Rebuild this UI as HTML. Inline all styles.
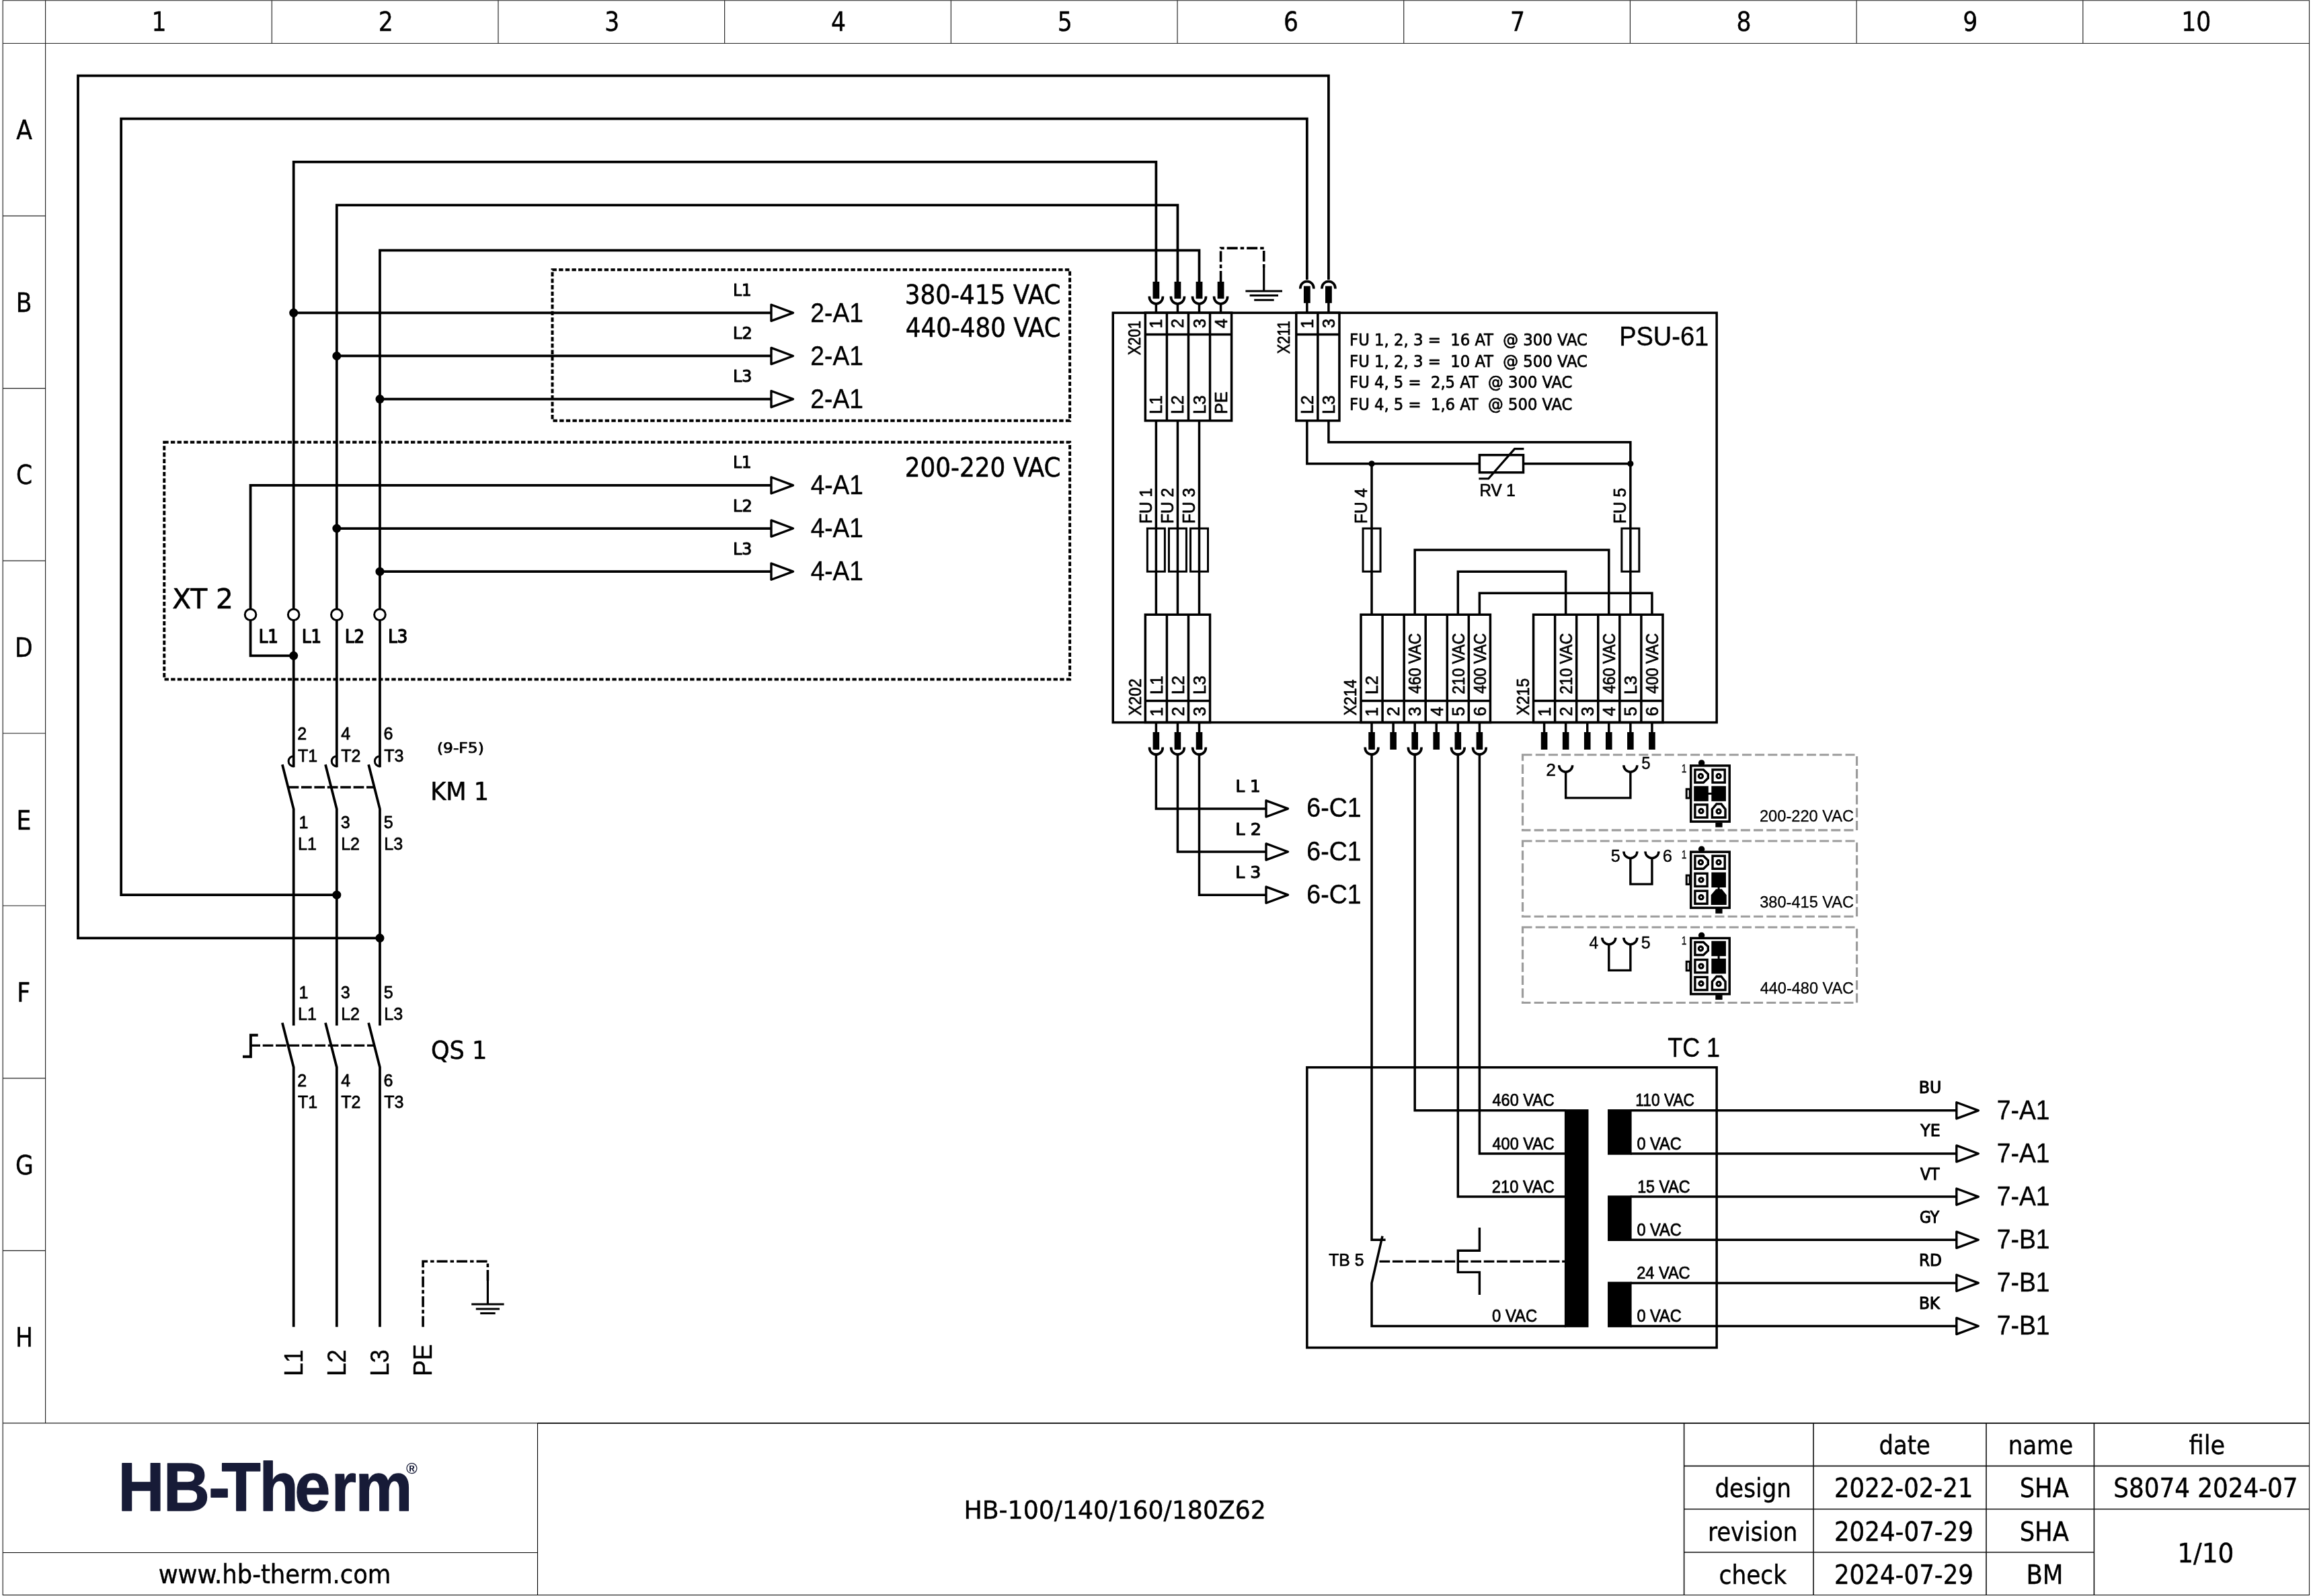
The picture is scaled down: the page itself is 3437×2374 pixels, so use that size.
<!DOCTYPE html>
<html lang="en"><head><meta charset="utf-8"><title>HB-100/140/160/180Z62 - wiring diagram 1/10</title>
<style>
html,body{margin:0;padding:0;background:#fff}
body{width:3437px;height:2374px;overflow:hidden}
svg{display:block;will-change:transform}
text{white-space:pre;fill:#000;stroke:none;stroke-linejoin:round}
.T{font-family:'DejaVu Sans Condensed','DejaVu Sans',sans-serif;font-stretch:condensed;stroke:#000;stroke-width:0.5px}
.A{font-family:'Liberation Sans',sans-serif;stroke:#000;stroke-width:0.5px}
.AB{font-family:'Liberation Sans',sans-serif;font-weight:bold}
</style></head><body>
<svg width="3437" height="2374" viewBox="0 0 3437 2374" fill="none" stroke="#000" stroke-linecap="butt" stroke-linejoin="miter">
<rect width="3437" height="2374" fill="#fff" stroke="none"/>
<g stroke="#222" stroke-width="1.15">
<path d="M4.2 0.7H3434.5V2372.5H4.2Z"/>
<path d="M4.2 64.5H3434.5M67.6 0.7V2116.9M4.2 2116.9H3434.5"/>
<path d="M404.29 0.7V64.5M740.98 0.7V64.5M1077.67 0.7V64.5M1414.36 0.7V64.5M1751.05 0.7V64.5M2087.74 0.7V64.5M2424.43 0.7V64.5M2761.12 0.7V64.5M3097.81 0.7V64.5M4.2 321.05H67.6M4.2 577.60H67.6M4.2 834.15H67.6M4.2 1090.70H67.6M4.2 1347.25H67.6M4.2 1603.80H67.6M4.2 1860.35H67.6"/>
</g>
<path d="M799.5 2116.9V2372.5M4.2 2309.5H799.5M4.2 2372.5H3434.5" stroke="#000" stroke-width="1.1"/>
<g stroke="#111" stroke-width="1.6">
<path d="M799.6 2116.9H3434.5"/>
<path d="M2504.6 2116.9V2372.5M2697 2116.9V2372.5M2954 2116.9V2372.5M3114.4 2116.9V2372.5M2504.6 2180.6H3434.5M2504.6 2244.7H3434.5M2504.6 2309H3114.4"/>
</g>
<path d="M564.95 1395.3H116.0V112.6H1975.92V416" stroke-width="3.75" />
<path d="M500.81 1331.16H180.13V176.74H1943.85V416" stroke-width="3.75" />
<path d="M436.68 1141.3V240.87H1719.38V419" stroke-width="3.75" />
<path d="M500.81 1141.3V305.0H1751.44V419" stroke-width="3.75" />
<path d="M564.95 1141.3V372.3H1783.51V419" stroke-width="3.75" />
<path d="M436.68 465.34L1147.00 465.34" stroke-width="3.75" />
<path d="M500.81 529.48L1147.00 529.48" stroke-width="3.75" />
<path d="M564.95 593.61L1147.00 593.61" stroke-width="3.75" />
<path d="M372.54 721.88L1147.00 721.88" stroke-width="3.75" />
<path d="M500.81 786.02L1147.00 786.02" stroke-width="3.75" />
<path d="M564.95 850.15L1147.00 850.15" stroke-width="3.75" />
<path d="M372.54 720.01V975.3H436.68" stroke-width="3.75" />
<path d="M1147.00 453.24L1179.50 465.34L1147.00 477.44Z" stroke-width="3.4" stroke-linejoin="round"/>
<path d="M1147.00 517.38L1179.50 529.48L1147.00 541.58Z" stroke-width="3.4" stroke-linejoin="round"/>
<path d="M1147.00 581.51L1179.50 593.61L1147.00 605.71Z" stroke-width="3.4" stroke-linejoin="round"/>
<path d="M1147.00 709.78L1179.50 721.88L1147.00 733.98Z" stroke-width="3.4" stroke-linejoin="round"/>
<path d="M1147.00 773.92L1179.50 786.02L1147.00 798.12Z" stroke-width="3.4" stroke-linejoin="round"/>
<path d="M1147.00 838.05L1179.50 850.15L1147.00 862.25Z" stroke-width="3.4" stroke-linejoin="round"/>
<circle cx="436.68" cy="465.34" r="6.5" fill="#000" stroke="none"/>
<circle cx="500.81" cy="529.48" r="6.5" fill="#000" stroke="none"/>
<circle cx="564.95" cy="593.61" r="6.5" fill="#000" stroke="none"/>
<circle cx="500.81" cy="786.02" r="6.5" fill="#000" stroke="none"/>
<circle cx="564.95" cy="850.15" r="6.5" fill="#000" stroke="none"/>
<circle cx="500.81" cy="1331.16" r="6.5" fill="#000" stroke="none"/>
<circle cx="564.95" cy="1395.30" r="6.5" fill="#000" stroke="none"/>
<circle cx="436.68" cy="975.30" r="6.5" fill="#000" stroke="none"/>
<circle cx="372.54" cy="914.29" r="8.3" fill="#fff" stroke-width="3"/>
<circle cx="436.68" cy="914.29" r="8.3" fill="#fff" stroke-width="3"/>
<circle cx="500.81" cy="914.29" r="8.3" fill="#fff" stroke-width="3"/>
<circle cx="564.95" cy="914.29" r="8.3" fill="#fff" stroke-width="3"/>
<path d="M821.49 401.21H1591.11V625.68H821.49Z" stroke-width="4" stroke-dasharray="6.4 3.25"/>
<path d="M244.27 657.75H1591.11V1010.49H244.27Z" stroke-width="4" stroke-dasharray="6.4 3.25"/>
<path d="M436.68 1124.7A7.6 7.6 0 0 0 436.68 1139.9" stroke-width="3" />
<path d="M419.88 1137.3L436.68 1203.4V1525.4" stroke-width="3.75" />
<path d="M419.88 1521.4L436.68 1587.6V1973.8" stroke-width="3.75" />
<path d="M500.81 1124.7A7.6 7.6 0 0 0 500.81 1139.9" stroke-width="3" />
<path d="M484.01 1137.3L500.81 1203.4V1525.4" stroke-width="3.75" />
<path d="M484.01 1521.4L500.81 1587.6V1973.8" stroke-width="3.75" />
<path d="M564.95 1124.7A7.6 7.6 0 0 0 564.95 1139.9" stroke-width="3" />
<path d="M548.15 1137.3L564.95 1203.4V1525.4" stroke-width="3.75" />
<path d="M548.15 1521.4L564.95 1587.6V1973.8" stroke-width="3.75" />
<path d="M428.60 1171.00L556.60 1171.00" stroke-width="3.4" stroke-dasharray="15.7 3.7"/>
<path d="M371.30 1555.10L556.60 1555.10" stroke-width="3.4" stroke-dasharray="15.7 3.7"/>
<path d="M383.7 1539.8H372.9V1571.7H361" stroke-width="3.9" />
<path d="M629.08 1973.8V1876.3H725.4V1905" stroke-width="3.6" stroke-dasharray="16 4 5.5 4"/>
<path d="M725.40 1905.00L725.40 1940.00" stroke-width="3.2" />
<path d="M701.2 1940H749.6M707.8 1947H743M714.2 1953.4H736.7" stroke-width="3" />
<g stroke-width="3.5">
<rect x="1655.24" y="465.34" width="897.89" height="609.28"/>
<path d="M1703.34 465.34V625.68M1735.41 465.34V625.68M1767.48 465.34V625.68M1799.54 465.34V625.68M1831.61 465.34V625.68M1703.34 497.41H1831.61M1703.34 625.68H1831.61M1703.34 465.34H1831.61" stroke-linecap="square"/>
<path d="M1927.81 465.34V625.68M1959.88 465.34V625.68M1991.95 465.34V625.68M1927.81 497.41H1991.95M1927.81 625.68H1991.95M1927.81 465.34H1991.95" stroke-linecap="square"/>
<path d="M1703.34 914.29V1074.62M1735.41 914.29V1074.62M1767.48 914.29V1074.62M1799.54 914.29V1074.62M1703.34 1042.56H1799.54M1703.34 1074.62H1799.54M1703.34 914.29H1799.54" stroke-linecap="square"/>
<path d="M2024.02 914.29V1074.62M2056.08 914.29V1074.62M2088.15 914.29V1074.62M2120.22 914.29V1074.62M2152.29 914.29V1074.62M2184.35 914.29V1074.62M2216.42 914.29V1074.62M2024.02 1042.56H2216.42M2024.02 1074.62H2216.42M2024.02 914.29H2216.42" stroke-linecap="square"/>
<path d="M2280.56 914.29V1074.62M2312.62 914.29V1074.62M2344.69 914.29V1074.62M2376.76 914.29V1074.62M2408.83 914.29V1074.62M2440.89 914.29V1074.62M2472.96 914.29V1074.62M2280.56 1042.56H2472.96M2280.56 1074.62H2472.96M2280.56 914.29H2472.96" stroke-linecap="square"/>
<rect x="1706.38" y="786.02" width="26" height="64.13" stroke-width="3"/>
<rect x="1738.44" y="786.02" width="26" height="64.13" stroke-width="3"/>
<rect x="1770.51" y="786.02" width="26" height="64.13" stroke-width="3"/>
<rect x="2027.05" y="786.02" width="26" height="64.13" stroke-width="3"/>
<rect x="2411.86" y="786.02" width="26" height="64.13" stroke-width="3"/>
<path d="M1719.38 625.68V914.29"/>
<path d="M1751.44 625.68V914.29"/>
<path d="M1783.51 625.68V914.29"/>
<path d="M1975.92 625.68V657.75H2424.86V914.29"/>
<path d="M1943.85 625.68V689.82H2200.39M2264.52 689.82H2424.86"/>
<path d="M2040.05 689.82V914.29"/>
<rect x="2200.39" y="676.82" width="65.13" height="26"/>
<path d="M2199.4 712H2213.7L2252.6 667.7H2266.4" stroke-width="3.2"/>
<path d="M2104.19 914.29V818.09H2392.79V914.29"/>
<path d="M2168.32 914.29V850.15H2328.66V914.29"/>
<path d="M2200.39 914.29V882.22H2456.93V914.29"/>
</g>
<circle cx="2040.05" cy="689.82" r="4.6" fill="#000" stroke="none"/>
<circle cx="2424.86" cy="689.82" r="4.6" fill="#000" stroke="none"/>
<rect x="1714.48" y="419" width="9.8" height="25.3" fill="#000" stroke="none"/>
<path d="M1709.38 440.8V441.8A10 10 0 0 0 1729.38 441.8V440.8" stroke-width="3.7" />
<path d="M1719.38 451.80L1719.38 465.34" stroke-width="3.5" />
<rect x="1746.54" y="419" width="9.8" height="25.3" fill="#000" stroke="none"/>
<path d="M1741.44 440.8V441.8A10 10 0 0 0 1761.44 441.8V440.8" stroke-width="3.7" />
<path d="M1751.44 451.80L1751.44 465.34" stroke-width="3.5" />
<rect x="1778.61" y="419" width="9.8" height="25.3" fill="#000" stroke="none"/>
<path d="M1773.51 440.8V441.8A10 10 0 0 0 1793.51 441.8V440.8" stroke-width="3.7" />
<path d="M1783.51 451.80L1783.51 465.34" stroke-width="3.5" />
<rect x="1810.68" y="419" width="9.8" height="25.3" fill="#000" stroke="none"/>
<path d="M1805.58 440.8V441.8A10 10 0 0 0 1825.58 441.8V440.8" stroke-width="3.7" />
<path d="M1815.58 451.80L1815.58 465.34" stroke-width="3.5" />
<path d="M1933.85 429.6V428.6A10 10 0 0 1 1953.85 428.6V429.6" stroke-width="3.7" />
<rect x="1938.95" y="425.5" width="9.8" height="25.3" fill="#000" stroke="none"/>
<path d="M1943.85 450.00L1943.85 465.34" stroke-width="3.5" />
<path d="M1965.92 429.6V428.6A10 10 0 0 1 1985.92 428.6V429.6" stroke-width="3.7" />
<rect x="1971.02" y="425.5" width="9.8" height="25.3" fill="#000" stroke="none"/>
<path d="M1975.92 450.00L1975.92 465.34" stroke-width="3.5" />
<path d="M1719.38 1074.62L1719.38 1090.00" stroke-width="3.5" />
<rect x="1714.58" y="1089" width="9.6" height="26" fill="#000" stroke="none"/>
<path d="M1709.58 1111.4V1112.4A9.8 9.8 0 0 0 1729.18 1112.4V1111.4" stroke-width="3.7" />
<path d="M1751.44 1074.62L1751.44 1090.00" stroke-width="3.5" />
<rect x="1746.64" y="1089" width="9.6" height="26" fill="#000" stroke="none"/>
<path d="M1741.64 1111.4V1112.4A9.8 9.8 0 0 0 1761.24 1112.4V1111.4" stroke-width="3.7" />
<path d="M1783.51 1074.62L1783.51 1090.00" stroke-width="3.5" />
<rect x="1778.71" y="1089" width="9.6" height="26" fill="#000" stroke="none"/>
<path d="M1773.71 1111.4V1112.4A9.8 9.8 0 0 0 1793.31 1112.4V1111.4" stroke-width="3.7" />
<path d="M2040.05 1074.62L2040.05 1090.00" stroke-width="3.5" />
<rect x="2035.25" y="1089" width="9.6" height="26" fill="#000" stroke="none"/>
<path d="M2030.25 1111.4V1112.4A9.8 9.8 0 0 0 2049.85 1112.4V1111.4" stroke-width="3.7" />
<path d="M2072.12 1074.62L2072.12 1090.00" stroke-width="3.5" />
<rect x="2067.32" y="1089" width="9.6" height="26" fill="#000" stroke="none"/>
<path d="M2104.19 1074.62L2104.19 1090.00" stroke-width="3.5" />
<rect x="2099.39" y="1089" width="9.6" height="26" fill="#000" stroke="none"/>
<path d="M2094.39 1111.4V1112.4A9.8 9.8 0 0 0 2113.99 1112.4V1111.4" stroke-width="3.7" />
<path d="M2136.25 1074.62L2136.25 1090.00" stroke-width="3.5" />
<rect x="2131.45" y="1089" width="9.6" height="26" fill="#000" stroke="none"/>
<path d="M2168.32 1074.62L2168.32 1090.00" stroke-width="3.5" />
<rect x="2163.52" y="1089" width="9.6" height="26" fill="#000" stroke="none"/>
<path d="M2158.52 1111.4V1112.4A9.8 9.8 0 0 0 2178.12 1112.4V1111.4" stroke-width="3.7" />
<path d="M2200.39 1074.62L2200.39 1090.00" stroke-width="3.5" />
<rect x="2195.59" y="1089" width="9.6" height="26" fill="#000" stroke="none"/>
<path d="M2190.59 1111.4V1112.4A9.8 9.8 0 0 0 2210.19 1112.4V1111.4" stroke-width="3.7" />
<path d="M2296.59 1074.62L2296.59 1090.00" stroke-width="3.5" />
<rect x="2291.79" y="1089" width="9.6" height="26" fill="#000" stroke="none"/>
<path d="M2328.66 1074.62L2328.66 1090.00" stroke-width="3.5" />
<rect x="2323.86" y="1089" width="9.6" height="26" fill="#000" stroke="none"/>
<path d="M2360.73 1074.62L2360.73 1090.00" stroke-width="3.5" />
<rect x="2355.93" y="1089" width="9.6" height="26" fill="#000" stroke="none"/>
<path d="M2392.79 1074.62L2392.79 1090.00" stroke-width="3.5" />
<rect x="2387.99" y="1089" width="9.6" height="26" fill="#000" stroke="none"/>
<path d="M2424.86 1074.62L2424.86 1090.00" stroke-width="3.5" />
<rect x="2420.06" y="1089" width="9.6" height="26" fill="#000" stroke="none"/>
<path d="M2456.93 1074.62L2456.93 1090.00" stroke-width="3.5" />
<rect x="2452.13" y="1089" width="9.6" height="26" fill="#000" stroke="none"/>
<path d="M1815.58 419V369.1H1879.71V398" stroke-width="3.6" stroke-dasharray="16 4 5.5 4"/>
<path d="M1879.71 398.00L1879.71 433.00" stroke-width="3.2" />
<path d="M1852.4 433H1907M1858.6 439.6H1901M1865.2 446.2H1894.7" stroke-width="3" />
<path d="M1719.38 1122.2V1202.89H1883" stroke-width="3.5" />
<path d="M1751.44 1122.2V1267.03H1883" stroke-width="3.5" />
<path d="M1783.51 1122.2V1331.16H1883" stroke-width="3.5" />
<path d="M1883.00 1190.79L1915.50 1202.89L1883.00 1214.99Z" stroke-width="3.4" stroke-linejoin="round"/>
<path d="M1883.00 1254.93L1915.50 1267.03L1883.00 1279.13Z" stroke-width="3.4" stroke-linejoin="round"/>
<path d="M1883.00 1319.06L1915.50 1331.16L1883.00 1343.26Z" stroke-width="3.4" stroke-linejoin="round"/>
<path d="M2040.05 1122.2V1844.25H2060.6" stroke-width="3.5" />
<path d="M2104.19 1122.2V1651.84H2328.66" stroke-width="3.5" />
<path d="M2168.32 1122.2V1780.11H2328.66" stroke-width="3.5" />
<path d="M2200.39 1122.2V1715.98H2328.66" stroke-width="3.5" />
<path d="M2264.52 1122.73H2761.57V1234.96H2264.52Z" stroke="#9c9c9c" stroke-width="3.2" stroke-dasharray="14 5.2"/>
<path d="M2264.52 1251.0H2761.57V1363.23H2264.52Z" stroke="#9c9c9c" stroke-width="3.2" stroke-dasharray="14 5.2"/>
<path d="M2264.52 1379.27H2761.57V1491.5H2264.52Z" stroke="#9c9c9c" stroke-width="3.2" stroke-dasharray="14 5.2"/>
<path d="M2318.66 1138.16A10 10 0 0 0 2338.66 1138.16" stroke-width="3.5" />
<path d="M2414.86 1138.16A10 10 0 0 0 2434.86 1138.16" stroke-width="3.5" />
<path d="M2328.66 1148.16V1186.86H2424.86V1148.16" stroke-width="3.4" />
<path d="M2414.86 1266.43A10 10 0 0 0 2434.86 1266.43" stroke-width="3.5" />
<path d="M2446.93 1266.43A10 10 0 0 0 2466.93 1266.43" stroke-width="3.5" />
<path d="M2424.86 1276.43V1315.13H2456.93V1276.43" stroke-width="3.4" />
<path d="M2382.79 1394.70A10 10 0 0 0 2402.79 1394.70" stroke-width="3.5" />
<path d="M2414.86 1394.70A10 10 0 0 0 2434.86 1394.70" stroke-width="3.5" />
<path d="M2392.79 1404.70V1443.4H2424.86V1404.70" stroke-width="3.4" />
<g transform="translate(0 0.00)"><rect x="2514.7" y="1138.9" width="57.5" height="83.2" stroke-width="3.5"/><circle cx="2530.6" cy="1134.9" r="4.7" fill="#000" stroke="none"/><rect x="2508.2" y="1173.8" width="5" height="13.3" stroke-width="3" fill="#fff"/><rect x="2551.3" y="1223.5" width="10.3" height="7" fill="#000" stroke="none"/><path d="M2520.90 1144.90H2533.40L2540.30 1151.40V1157.50L2533.40 1164.00H2520.90Z" stroke-width="3.4"/><circle cx="2529.40" cy="1154.45" r="3" stroke-width="3.3"/><rect x="2547.00" y="1144.90" width="18.20" height="19.10" stroke-width="3.4"/><circle cx="2556.10" cy="1154.45" r="3" stroke-width="3.3"/><rect x="2519.20" y="1169.30" width="21.60" height="22.50" fill="#000" stroke="none"/><rect x="2545.30" y="1169.30" width="21.60" height="22.50" fill="#000" stroke="none"/><rect x="2520.90" y="1196.90" width="18.20" height="19.10" stroke-width="3.4"/><circle cx="2530.00" cy="1206.45" r="3" stroke-width="3.3"/><path d="M2546.40 1216.00V1203.60L2552.90 1195.90H2559.90L2566.00 1203.60V1216.00Z" stroke-width="3.4" /><circle cx="2556.10" cy="1206.95" r="3" stroke-width="3.3"/><path d="M2530.00 1180.55L2556.10 1180.55" stroke-width="3"/></g>
<g transform="translate(0 128.27)"><rect x="2514.7" y="1138.9" width="57.5" height="83.2" stroke-width="3.5"/><circle cx="2530.6" cy="1134.9" r="4.7" fill="#000" stroke="none"/><rect x="2508.2" y="1173.8" width="5" height="13.3" stroke-width="3" fill="#fff"/><rect x="2551.3" y="1223.5" width="10.3" height="7" fill="#000" stroke="none"/><path d="M2520.90 1144.90H2533.40L2540.30 1151.40V1157.50L2533.40 1164.00H2520.90Z" stroke-width="3.4"/><circle cx="2529.40" cy="1154.45" r="3" stroke-width="3.3"/><rect x="2547.00" y="1144.90" width="18.20" height="19.10" stroke-width="3.4"/><circle cx="2556.10" cy="1154.45" r="3" stroke-width="3.3"/><rect x="2520.90" y="1171.00" width="18.20" height="19.10" stroke-width="3.4"/><circle cx="2530.00" cy="1180.55" r="3" stroke-width="3.3"/><rect x="2545.30" y="1169.30" width="21.60" height="22.50" fill="#000" stroke="none"/><rect x="2520.90" y="1196.90" width="18.20" height="19.10" stroke-width="3.4"/><circle cx="2530.00" cy="1206.45" r="3" stroke-width="3.3"/><path d="M2546.40 1216.00V1203.60L2552.90 1195.90H2559.90L2566.00 1203.60V1216.00Z" stroke-width="3.4" fill="#000"/><path d="M2556.10 1180.55L2556.10 1206.45" stroke-width="3"/></g>
<g transform="translate(0 256.54)"><rect x="2514.7" y="1138.9" width="57.5" height="83.2" stroke-width="3.5"/><circle cx="2530.6" cy="1134.9" r="4.7" fill="#000" stroke="none"/><rect x="2508.2" y="1173.8" width="5" height="13.3" stroke-width="3" fill="#fff"/><rect x="2551.3" y="1223.5" width="10.3" height="7" fill="#000" stroke="none"/><path d="M2520.90 1144.90H2533.40L2540.30 1151.40V1157.50L2533.40 1164.00H2520.90Z" stroke-width="3.4"/><circle cx="2529.40" cy="1154.45" r="3" stroke-width="3.3"/><rect x="2545.30" y="1143.20" width="21.60" height="22.50" fill="#000" stroke="none"/><rect x="2520.90" y="1171.00" width="18.20" height="19.10" stroke-width="3.4"/><circle cx="2530.00" cy="1180.55" r="3" stroke-width="3.3"/><rect x="2545.30" y="1169.30" width="21.60" height="22.50" fill="#000" stroke="none"/><rect x="2520.90" y="1196.90" width="18.20" height="19.10" stroke-width="3.4"/><circle cx="2530.00" cy="1206.45" r="3" stroke-width="3.3"/><path d="M2546.40 1216.00V1203.60L2552.90 1195.90H2559.90L2566.00 1203.60V1216.00Z" stroke-width="3.4" /><circle cx="2556.10" cy="1206.95" r="3" stroke-width="3.3"/><path d="M2556.10 1154.45L2556.10 1180.55" stroke-width="3"/></g>
<rect x="1943.85" y="1587.7" width="609.28" height="416.88" stroke-width="3.5"/>
<rect x="2326.91" y="1650.09" width="35.57" height="324.18" fill="#000" stroke="none"/>
<rect x="2391.04" y="1650.09" width="35.57" height="67.64" fill="#000" stroke="none"/>
<rect x="2391.04" y="1778.36" width="35.57" height="67.64" fill="#000" stroke="none"/>
<rect x="2391.04" y="1906.63" width="35.57" height="67.64" fill="#000" stroke="none"/>
<path d="M2424.86 1651.84L2909.80 1651.84" stroke-width="3.5" />
<path d="M2909.80 1639.74L2942.30 1651.84L2909.80 1663.94Z" stroke-width="3.4" stroke-linejoin="round"/>
<path d="M2424.86 1715.98L2909.80 1715.98" stroke-width="3.5" />
<path d="M2909.80 1703.88L2942.30 1715.98L2909.80 1728.08Z" stroke-width="3.4" stroke-linejoin="round"/>
<path d="M2424.86 1780.11L2909.80 1780.11" stroke-width="3.5" />
<path d="M2909.80 1768.01L2942.30 1780.11L2909.80 1792.21Z" stroke-width="3.4" stroke-linejoin="round"/>
<path d="M2424.86 1844.25L2909.80 1844.25" stroke-width="3.5" />
<path d="M2909.80 1832.15L2942.30 1844.25L2909.80 1856.35Z" stroke-width="3.4" stroke-linejoin="round"/>
<path d="M2424.86 1908.38L2909.80 1908.38" stroke-width="3.5" />
<path d="M2909.80 1896.28L2942.30 1908.38L2909.80 1920.48Z" stroke-width="3.4" stroke-linejoin="round"/>
<path d="M2424.86 1972.52L2909.80 1972.52" stroke-width="3.5" />
<path d="M2909.80 1960.42L2942.30 1972.52L2909.80 1984.62Z" stroke-width="3.4" stroke-linejoin="round"/>
<path d="M2056 1838.6L2040.05 1908.38V1972.52H2328.66" stroke-width="3.5" />
<path d="M2051.50 1876.31L2327.66 1876.31" stroke-width="3.3" stroke-dasharray="15.7 3.7"/>
<path d="M2200.39 1826V1860.28H2168.32V1892.35H2200.39V1926" stroke-width="3.4" />
<text class="AB" transform="translate(0 2247.3) scale(0.93 1)" x="188.6 261.2 333.7 354.4 414.6 471.3 529.8 568.4" font-size="102.6" style="fill:#171b37;stroke:#171b37;stroke-width:1.4px">HB-Therm</text>
<g>
<text class="T" transform="translate(225.40 46.20)" font-size="38.45" style="stroke-width:0.4px;">1</text>
<text class="T" transform="translate(562.86 46.20)" font-size="38.45" style="stroke-width:0.4px;">2</text>
<text class="T" transform="translate(899.17 46.20)" font-size="38.45" style="stroke-width:0.4px;">3</text>
<text class="T" transform="translate(1236.05 46.20)" font-size="38.45" style="stroke-width:0.4px;">4</text>
<text class="T" transform="translate(1572.74 46.20)" font-size="38.45" style="stroke-width:0.4px;">5</text>
<text class="T" transform="translate(1909.04 46.20)" font-size="38.45" style="stroke-width:0.4px;">6</text>
<text class="T" transform="translate(2245.93 46.20)" font-size="38.45" style="stroke-width:0.4px;">7</text>
<text class="T" transform="translate(2582.62 46.20)" font-size="38.45" style="stroke-width:0.4px;">8</text>
<text class="T" transform="translate(2919.31 46.20)" font-size="38.45" style="stroke-width:0.4px;">9</text>
<text class="T" transform="translate(3244.27 46.20)" font-size="38.45" style="stroke-width:0.4px;">10</text>
<text class="T" transform="translate(24.27 207.38)" font-size="38.45" style="stroke-width:0.4px;">A</text>
<text class="T" transform="translate(23.70 463.93)" font-size="38.45" style="stroke-width:0.4px;">B</text>
<text class="T" transform="translate(23.89 720.48)" font-size="38.45" style="stroke-width:0.4px;">C</text>
<text class="T" transform="translate(21.97 977.03)" font-size="38.45" style="stroke-width:0.4px;">D</text>
<text class="T" transform="translate(24.46 1233.58)" font-size="38.45" style="stroke-width:0.4px;">E</text>
<text class="T" transform="translate(25.23 1490.12)" font-size="38.45" style="stroke-width:0.4px;">F</text>
<text class="T" transform="translate(23.12 1746.67)" font-size="38.45" style="stroke-width:0.4px;">G</text>
<text class="T" transform="translate(22.93 2003.22)" font-size="38.45" style="stroke-width:0.4px;">H</text>
<text class="T" transform="translate(1090.20 439.94) scale(1.0162 1)" font-size="25.24" style="stroke-width:1.0px;">L1</text>
<text class="A" transform="translate(1205.32 478.54) scale(0.9213 1)" font-size="40.41" style="stroke-width:0.4px;">2-A1</text>
<text class="T" transform="translate(1090.11 504.08) scale(1.0655 1)" font-size="25.24" style="stroke-width:1.0px;">L2</text>
<text class="A" transform="translate(1205.32 542.68) scale(0.9213 1)" font-size="40.41" style="stroke-width:0.4px;">2-A1</text>
<text class="T" transform="translate(1090.15 568.21) scale(1.0430 1)" font-size="25.24" style="stroke-width:1.0px;">L3</text>
<text class="A" transform="translate(1205.32 606.81) scale(0.9213 1)" font-size="40.41" style="stroke-width:0.4px;">2-A1</text>
<text class="T" transform="translate(1090.20 696.48) scale(1.0162 1)" font-size="25.24" style="stroke-width:1.0px;">L1</text>
<text class="A" transform="translate(1205.64 735.08) scale(0.9175 1)" font-size="40.41" style="stroke-width:0.4px;">4-A1</text>
<text class="T" transform="translate(1090.11 760.62) scale(1.0655 1)" font-size="25.24" style="stroke-width:1.0px;">L2</text>
<text class="A" transform="translate(1205.64 799.22) scale(0.9175 1)" font-size="40.41" style="stroke-width:0.4px;">4-A1</text>
<text class="T" transform="translate(1090.15 824.75) scale(1.0430 1)" font-size="25.24" style="stroke-width:1.0px;">L3</text>
<text class="A" transform="translate(1205.64 863.35) scale(0.9175 1)" font-size="40.41" style="stroke-width:0.4px;">4-A1</text>
<text class="T" transform="translate(1345.67 452.30) scale(1.0377 1)" font-size="38.41">380-415 VAC</text>
<text class="T" transform="translate(1346.87 500.80) scale(1.0322 1)" font-size="38.41">440-480 VAC</text>
<text class="T" transform="translate(1345.67 709.30) scale(1.0377 1)" font-size="38.41">200-220 VAC</text>
<text class="T" transform="translate(256.17 905.00) scale(1.1040 1)" font-size="41.02" style="stroke-width:0.6px;">XT 2</text>
<text class="T" transform="translate(384.76 955.80)" font-size="27.02" style="stroke-width:1.3px;">L1</text>
<text class="T" transform="translate(448.90 955.80)" font-size="27.02" style="stroke-width:1.3px;">L1</text>
<text class="T" transform="translate(513.03 955.80)" font-size="27.02" style="stroke-width:1.3px;">L2</text>
<text class="T" transform="translate(577.17 955.80)" font-size="27.02" style="stroke-width:1.3px;">L3</text>
<text class="A" transform="translate(442.29 1100.20) scale(0.9600 1)" font-size="26.09" style="stroke-width:0.75px;">2</text>
<text class="A" transform="translate(443.04 1132.60) scale(0.9600 1)" font-size="26.09" style="stroke-width:0.75px;">T1</text>
<text class="A" transform="translate(444.54 1231.50) scale(0.9600 1)" font-size="26.09" style="stroke-width:0.75px;">1</text>
<text class="A" transform="translate(443.04 1263.60) scale(0.9600 1)" font-size="26.09" style="stroke-width:0.75px;">L1</text>
<text class="A" transform="translate(444.54 1484.70) scale(0.9600 1)" font-size="26.09" style="stroke-width:0.75px;">1</text>
<text class="A" transform="translate(443.04 1517.00) scale(0.9600 1)" font-size="26.09" style="stroke-width:0.75px;">L1</text>
<text class="A" transform="translate(442.29 1616.30) scale(0.9600 1)" font-size="26.09" style="stroke-width:0.75px;">2</text>
<text class="A" transform="translate(443.04 1648.30) scale(0.9600 1)" font-size="26.09" style="stroke-width:0.75px;">T1</text>
<text class="A" transform="translate(507.17 1100.20) scale(0.9600 1)" font-size="26.09" style="stroke-width:0.75px;">4</text>
<text class="A" transform="translate(507.17 1132.60) scale(0.9600 1)" font-size="26.09" style="stroke-width:0.75px;">T2</text>
<text class="A" transform="translate(506.67 1231.50) scale(0.9600 1)" font-size="26.09" style="stroke-width:0.75px;">3</text>
<text class="A" transform="translate(507.17 1263.60) scale(0.9600 1)" font-size="26.09" style="stroke-width:0.75px;">L2</text>
<text class="A" transform="translate(506.67 1484.70) scale(0.9600 1)" font-size="26.09" style="stroke-width:0.75px;">3</text>
<text class="A" transform="translate(507.17 1517.00) scale(0.9600 1)" font-size="26.09" style="stroke-width:0.75px;">L2</text>
<text class="A" transform="translate(507.17 1616.30) scale(0.9600 1)" font-size="26.09" style="stroke-width:0.75px;">4</text>
<text class="A" transform="translate(507.17 1648.30) scale(0.9600 1)" font-size="26.09" style="stroke-width:0.75px;">T2</text>
<text class="A" transform="translate(570.56 1100.20) scale(0.9600 1)" font-size="26.09" style="stroke-width:0.75px;">6</text>
<text class="A" transform="translate(571.31 1132.60) scale(0.9600 1)" font-size="26.09" style="stroke-width:0.75px;">T3</text>
<text class="A" transform="translate(570.81 1231.50) scale(0.9600 1)" font-size="26.09" style="stroke-width:0.75px;">5</text>
<text class="A" transform="translate(571.31 1263.60) scale(0.9600 1)" font-size="26.09" style="stroke-width:0.75px;">L3</text>
<text class="A" transform="translate(570.81 1484.70) scale(0.9600 1)" font-size="26.09" style="stroke-width:0.75px;">5</text>
<text class="A" transform="translate(571.31 1517.00) scale(0.9600 1)" font-size="26.09" style="stroke-width:0.75px;">L3</text>
<text class="A" transform="translate(570.56 1616.30) scale(0.9600 1)" font-size="26.09" style="stroke-width:0.75px;">6</text>
<text class="A" transform="translate(571.31 1648.30) scale(0.9600 1)" font-size="26.09" style="stroke-width:0.75px;">T3</text>
<text class="T" transform="translate(649.96 1120.00) scale(1.1796 1)" font-size="22.02" style="stroke-width:0.75px;">(9-F5)</text>
<text class="T" transform="translate(640.34 1189.60) scale(1.0356 1)" font-size="37.72">KM 1</text>
<text class="T" transform="translate(640.91 1574.80) scale(1.0350 1)" font-size="37.72">QS 1</text>
<text class="A" transform="translate(449.68 2046.97) rotate(-90) scale(0.9300 1)" font-size="38.37" style="stroke-width:0.4px;">L1</text>
<text class="A" transform="translate(513.81 2046.97) rotate(-90) scale(0.9300 1)" font-size="38.37" style="stroke-width:0.4px;">L2</text>
<text class="A" transform="translate(577.95 2046.97) rotate(-90) scale(0.9300 1)" font-size="38.37" style="stroke-width:0.4px;">L3</text>
<text class="A" transform="translate(642.08 2046.97) rotate(-90) scale(0.9300 1)" font-size="38.37" style="stroke-width:0.4px;">PE</text>
<text class="A" transform="translate(1728.38 488.47) rotate(-90) scale(0.9600 1)" font-size="26.09" style="stroke-width:0.75px;">1</text>
<text class="A" transform="translate(1728.38 616.04) rotate(-90) scale(0.9600 1)" font-size="26.09" style="stroke-width:0.75px;">L1</text>
<text class="A" transform="translate(1760.44 488.09) rotate(-90) scale(0.9600 1)" font-size="26.09" style="stroke-width:0.75px;">2</text>
<text class="A" transform="translate(1760.44 616.04) rotate(-90) scale(0.9600 1)" font-size="26.09" style="stroke-width:0.75px;">L2</text>
<text class="A" transform="translate(1792.51 487.97) rotate(-90) scale(0.9600 1)" font-size="26.09" style="stroke-width:0.75px;">3</text>
<text class="A" transform="translate(1792.51 616.04) rotate(-90) scale(0.9600 1)" font-size="26.09" style="stroke-width:0.75px;">L3</text>
<text class="A" transform="translate(1824.58 487.97) rotate(-90) scale(0.9600 1)" font-size="26.09" style="stroke-width:0.75px;">4</text>
<text class="A" transform="translate(1824.58 616.04) rotate(-90) scale(0.9600 1)" font-size="26.09" style="stroke-width:0.75px;">PE</text>
<text class="A" transform="translate(1696.40 528.34) rotate(-90) scale(0.8407 1)" font-size="26.09" style="stroke-width:0.75px;">X201</text>
<text class="A" transform="translate(1918.20 526.34) rotate(-90) scale(0.8330 1)" font-size="26.09" style="stroke-width:0.75px;">X211</text>
<text class="A" transform="translate(1952.85 488.47) rotate(-90) scale(0.9600 1)" font-size="26.09" style="stroke-width:0.75px;">1</text>
<text class="A" transform="translate(1952.85 616.04) rotate(-90) scale(0.9600 1)" font-size="26.09" style="stroke-width:0.75px;">L2</text>
<text class="A" transform="translate(1984.92 487.97) rotate(-90) scale(0.9600 1)" font-size="26.09" style="stroke-width:0.75px;">3</text>
<text class="A" transform="translate(1984.92 616.04) rotate(-90) scale(0.9600 1)" font-size="26.09" style="stroke-width:0.75px;">L3</text>
<text class="T" transform="translate(2007.08 513.70) scale(1.0314 1)" font-size="24.55" style="stroke-width:0.7px;">FU 1, 2, 3 =  16 AT  @ 300 VAC</text>
<text class="T" transform="translate(2007.08 545.50) scale(1.0314 1)" font-size="24.55" style="stroke-width:0.7px;">FU 1, 2, 3 =  10 AT  @ 500 VAC</text>
<text class="T" transform="translate(2007.09 577.40) scale(1.0288 1)" font-size="24.55" style="stroke-width:0.7px;">FU 4, 5 =  2,5 AT  @ 300 VAC</text>
<text class="T" transform="translate(2007.09 609.50) scale(1.0288 1)" font-size="24.55" style="stroke-width:0.7px;">FU 4, 5 =  1,6 AT  @ 500 VAC</text>
<text class="A" transform="translate(2408.15 513.50) scale(0.9512 1)" font-size="39.97" style="stroke-width:0.4px;">PSU-61</text>
<text class="A" transform="translate(2200.41 738.00) scale(0.9270 1)" font-size="26.09" style="stroke-width:0.75px;">RV 1</text>
<text class="A" transform="translate(1712.68 779.01) rotate(-90) scale(0.9431 1)" font-size="26.09" style="stroke-width:0.75px;">FU 1</text>
<text class="A" transform="translate(1744.74 779.01) rotate(-90) scale(0.9431 1)" font-size="26.09" style="stroke-width:0.75px;">FU 2</text>
<text class="A" transform="translate(1776.81 779.01) rotate(-90) scale(0.9431 1)" font-size="26.09" style="stroke-width:0.75px;">FU 3</text>
<text class="A" transform="translate(2033.35 779.00) rotate(-90) scale(0.9340 1)" font-size="26.09" style="stroke-width:0.75px;">FU 4</text>
<text class="A" transform="translate(2418.16 779.01) rotate(-90) scale(0.9431 1)" font-size="26.09" style="stroke-width:0.75px;">FU 5</text>
<text class="A" transform="translate(1728.68 1065.68) rotate(-90) scale(0.9600 1)" font-size="26.09" style="stroke-width:0.75px;">1</text>
<text class="A" transform="translate(1728.68 1033.04) rotate(-90) scale(0.9600 1)" font-size="26.09" style="stroke-width:0.75px;">L1</text>
<text class="A" transform="translate(1760.74 1065.30) rotate(-90) scale(0.9600 1)" font-size="26.09" style="stroke-width:0.75px;">2</text>
<text class="A" transform="translate(1760.74 1033.04) rotate(-90) scale(0.9600 1)" font-size="26.09" style="stroke-width:0.75px;">L2</text>
<text class="A" transform="translate(1792.81 1065.18) rotate(-90) scale(0.9600 1)" font-size="26.09" style="stroke-width:0.75px;">3</text>
<text class="A" transform="translate(1792.81 1033.04) rotate(-90) scale(0.9600 1)" font-size="26.09" style="stroke-width:0.75px;">L3</text>
<text class="A" transform="translate(1696.50 1064.57) rotate(-90) scale(0.9043 1)" font-size="26.09" style="stroke-width:0.75px;">X202</text>
<text class="A" transform="translate(2017.30 1064.36) rotate(-90) scale(0.8799 1)" font-size="26.09" style="stroke-width:0.75px;">X214</text>
<text class="A" transform="translate(2274.10 1063.97) rotate(-90) scale(0.9043 1)" font-size="26.09" style="stroke-width:0.75px;">X215</text>
<text class="A" transform="translate(2049.35 1065.68) rotate(-90) scale(0.9600 1)" font-size="26.09" style="stroke-width:0.75px;">1</text>
<text class="A" transform="translate(2049.35 1033.04) rotate(-90) scale(0.9600 1)" font-size="26.09" style="stroke-width:0.75px;">L2</text>
<text class="A" transform="translate(2081.42 1065.30) rotate(-90) scale(0.9600 1)" font-size="26.09" style="stroke-width:0.75px;">2</text>
<text class="A" transform="translate(2113.49 1065.18) rotate(-90) scale(0.9600 1)" font-size="26.09" style="stroke-width:0.75px;">3</text>
<text class="A" transform="translate(2113.49 1031.83) rotate(-90) scale(0.8782 1)" font-size="26.09" style="stroke-width:0.75px;">460 VAC</text>
<text class="A" transform="translate(2145.55 1065.18) rotate(-90) scale(0.9600 1)" font-size="26.09" style="stroke-width:0.75px;">4</text>
<text class="A" transform="translate(2177.62 1065.18) rotate(-90) scale(0.9600 1)" font-size="26.09" style="stroke-width:0.75px;">5</text>
<text class="A" transform="translate(2177.62 1032.52) rotate(-90) scale(0.8850 1)" font-size="26.09" style="stroke-width:0.75px;">210 VAC</text>
<text class="A" transform="translate(2209.69 1065.30) rotate(-90) scale(0.9600 1)" font-size="26.09" style="stroke-width:0.75px;">6</text>
<text class="A" transform="translate(2209.69 1031.83) rotate(-90) scale(0.8782 1)" font-size="26.09" style="stroke-width:0.75px;">400 VAC</text>
<text class="A" transform="translate(2305.89 1065.68) rotate(-90) scale(0.9600 1)" font-size="26.09" style="stroke-width:0.75px;">1</text>
<text class="A" transform="translate(2337.96 1065.30) rotate(-90) scale(0.9600 1)" font-size="26.09" style="stroke-width:0.75px;">2</text>
<text class="A" transform="translate(2337.96 1032.52) rotate(-90) scale(0.8850 1)" font-size="26.09" style="stroke-width:0.75px;">210 VAC</text>
<text class="A" transform="translate(2370.03 1065.18) rotate(-90) scale(0.9600 1)" font-size="26.09" style="stroke-width:0.75px;">3</text>
<text class="A" transform="translate(2402.09 1065.18) rotate(-90) scale(0.9600 1)" font-size="26.09" style="stroke-width:0.75px;">4</text>
<text class="A" transform="translate(2402.09 1031.83) rotate(-90) scale(0.8782 1)" font-size="26.09" style="stroke-width:0.75px;">460 VAC</text>
<text class="A" transform="translate(2434.16 1065.18) rotate(-90) scale(0.9600 1)" font-size="26.09" style="stroke-width:0.75px;">5</text>
<text class="A" transform="translate(2434.16 1033.04) rotate(-90) scale(0.9600 1)" font-size="26.09" style="stroke-width:0.75px;">L3</text>
<text class="A" transform="translate(2466.23 1065.30) rotate(-90) scale(0.9600 1)" font-size="26.09" style="stroke-width:0.75px;">6</text>
<text class="A" transform="translate(2466.23 1031.83) rotate(-90) scale(0.8782 1)" font-size="26.09" style="stroke-width:0.75px;">400 VAC</text>
<text class="T" transform="translate(1837.38 1177.59) scale(1.0858 1)" font-size="25.24" style="stroke-width:1.0px;">L 1</text>
<text class="A" transform="translate(1943.31 1215.49) scale(0.9382 1)" font-size="39.97" style="stroke-width:0.4px;">6-C1</text>
<text class="T" transform="translate(1837.30 1241.73) scale(1.1272 1)" font-size="25.24" style="stroke-width:1.0px;">L 2</text>
<text class="A" transform="translate(1943.31 1279.63) scale(0.9382 1)" font-size="39.97" style="stroke-width:0.4px;">6-C1</text>
<text class="T" transform="translate(1837.34 1305.86) scale(1.1091 1)" font-size="25.24" style="stroke-width:1.0px;">L 3</text>
<text class="A" transform="translate(1943.31 1343.76) scale(0.9382 1)" font-size="39.97" style="stroke-width:0.4px;">6-C1</text>
<text class="A" transform="translate(2299.18 1154.40) scale(1.0411 1)" font-size="25.44" style="stroke-width:0.4px;">2</text>
<text class="A" transform="translate(2441.33 1144.40) scale(0.9468 1)" font-size="25.44" style="stroke-width:0.4px;">5</text>
<text class="A" transform="translate(2395.69 1282.20) scale(0.9873 1)" font-size="25.44" style="stroke-width:0.4px;">5</text>
<text class="A" transform="translate(2472.63 1282.20)" font-size="25.44" style="stroke-width:0.4px;">6</text>
<text class="A" transform="translate(2363.50 1411.00) scale(0.9645 1)" font-size="25.44" style="stroke-width:0.4px;">4</text>
<text class="A" transform="translate(2440.79 1411.00) scale(0.9873 1)" font-size="25.44" style="stroke-width:0.4px;">5</text>
<text class="A" transform="translate(2616.96 1221.50) scale(0.9629 1)" font-size="24.56" style="stroke-width:0.3px;">200-220 VAC</text>
<text class="A" transform="translate(2617.20 1349.80) scale(0.9613 1)" font-size="24.56" style="stroke-width:0.3px;">380-415 VAC</text>
<text class="A" transform="translate(2617.67 1478.00) scale(0.9580 1)" font-size="24.56" style="stroke-width:0.3px;">440-480 VAC</text>
<text class="A" transform="translate(2500.83 1148.60) scale(0.8200 1)" font-size="16.72" style="stroke-width:0.3px;">1</text>
<text class="A" transform="translate(2500.83 1276.87) scale(0.8200 1)" font-size="16.72" style="stroke-width:0.3px;">1</text>
<text class="A" transform="translate(2500.83 1405.14) scale(0.8200 1)" font-size="16.72" style="stroke-width:0.3px;">1</text>
<text class="A" transform="translate(2480.16 1571.50) scale(0.9000 1)" font-size="39.97" style="stroke-width:0.4px;">TC 1</text>
<text class="A" transform="translate(1976.26 1882.80) scale(0.9477 1)" font-size="26.09" style="stroke-width:0.75px;">TB 5</text>
<text class="A" transform="translate(2219.57 1645.44) scale(0.8999 1)" font-size="26.09" style="stroke-width:0.75px;">460 VAC</text>
<text class="A" transform="translate(2219.57 1709.58) scale(0.8999 1)" font-size="26.09" style="stroke-width:0.75px;">400 VAC</text>
<text class="A" transform="translate(2218.86 1773.71) scale(0.9069 1)" font-size="26.09" style="stroke-width:0.75px;">210 VAC</text>
<text class="A" transform="translate(2219.09 1966.12) scale(0.9128 1)" font-size="26.09" style="stroke-width:0.75px;">0 VAC</text>
<text class="A" transform="translate(2432.31 1645.44) scale(0.8729 1)" font-size="26.09" style="stroke-width:0.75px;">110 VAC</text>
<text class="A" transform="translate(2435.17 1773.71) scale(0.8920 1)" font-size="26.09" style="stroke-width:0.75px;">15 VAC</text>
<text class="A" transform="translate(2434.16 1901.98) scale(0.9036 1)" font-size="26.09" style="stroke-width:0.75px;">24 VAC</text>
<text class="A" transform="translate(2434.40 1709.58) scale(0.9031 1)" font-size="26.09" style="stroke-width:0.75px;">0 VAC</text>
<text class="A" transform="translate(2434.40 1837.85) scale(0.9031 1)" font-size="26.09" style="stroke-width:0.75px;">0 VAC</text>
<text class="A" transform="translate(2434.40 1966.12) scale(0.9031 1)" font-size="26.09" style="stroke-width:0.75px;">0 VAC</text>
<text class="T" transform="translate(2853.86 1626.24) scale(1.0551 1)" font-size="24.97" style="stroke-width:1.0px;">BU</text>
<text class="A" transform="translate(2969.82 1664.64) scale(0.9326 1)" font-size="39.97" style="stroke-width:0.4px;">7-A1</text>
<text class="T" transform="translate(2856.23 1690.38) scale(1.0521 1)" font-size="24.97" style="stroke-width:1.0px;">YE</text>
<text class="A" transform="translate(2969.82 1728.78) scale(0.9326 1)" font-size="39.97" style="stroke-width:0.4px;">7-A1</text>
<text class="T" transform="translate(2855.95 1754.51) scale(0.9845 1)" font-size="24.97" style="stroke-width:1.0px;">VT</text>
<text class="A" transform="translate(2969.82 1792.91) scale(0.9326 1)" font-size="39.97" style="stroke-width:0.4px;">7-A1</text>
<text class="T" transform="translate(2854.97 1818.65) scale(0.9726 1)" font-size="24.97" style="stroke-width:1.0px;">GY</text>
<text class="A" transform="translate(2969.82 1857.05) scale(0.9326 1)" font-size="39.97" style="stroke-width:0.4px;">7-B1</text>
<text class="T" transform="translate(2853.90 1882.78) scale(1.0326 1)" font-size="24.97" style="stroke-width:1.0px;">RD</text>
<text class="A" transform="translate(2969.82 1921.18) scale(0.9326 1)" font-size="39.97" style="stroke-width:0.4px;">7-B1</text>
<text class="T" transform="translate(2853.89 1946.92) scale(1.0371 1)" font-size="24.97" style="stroke-width:1.0px;">BK</text>
<text class="A" transform="translate(2969.82 1985.32) scale(0.9326 1)" font-size="39.97" style="stroke-width:0.4px;">7-B1</text>
<text class="AB" transform="translate(603.93 2192.30)" font-size="22.9" style="fill:#171b37;">®</text>
<text class="T" transform="translate(235.63 2354.70) scale(1.0257 1)" font-size="38.41" style="stroke-width:0.4px;">www.hb-therm.com</text>
<text class="T" transform="translate(1433.38 2259.20) scale(1.0571 1)" font-size="38.13" style="stroke-width:0.4px;">HB-100/140/160/180Z62</text>
<text class="T" transform="translate(2794.51 2163.00) scale(0.9784 1)" font-size="38.45" style="stroke-width:0.4px;">date</text>
<text class="T" transform="translate(2986.67 2163.00) scale(0.9845 1)" font-size="38.45" style="stroke-width:0.4px;">name</text>
<text class="T" transform="translate(3255.52 2163.00) scale(1.0162 1)" font-size="38.45" style="stroke-width:0.4px;">file</text>
<text class="T" transform="translate(2550.40 2227.40) scale(0.9885 1)" font-size="38.45" style="stroke-width:0.4px;">design</text>
<text class="T" transform="translate(2727.94 2227.40) scale(1.0274 1)" font-size="38.45" style="stroke-width:0.4px;">2022-02-21</text>
<text class="T" transform="translate(3003.65 2227.40) scale(1.0227 1)" font-size="38.45" style="stroke-width:0.4px;">SHA</text>
<text class="T" transform="translate(3143.22 2227.40) scale(1.0337 1)" font-size="38.45" style="stroke-width:0.4px;">S8074 2024-07</text>
<text class="T" transform="translate(2539.97 2291.50) scale(0.9848 1)" font-size="38.45" style="stroke-width:0.4px;">revision</text>
<text class="T" transform="translate(2727.93 2291.50) scale(1.0305 1)" font-size="38.45" style="stroke-width:0.4px;">2024-07-29</text>
<text class="T" transform="translate(3003.65 2291.50) scale(1.0227 1)" font-size="38.45" style="stroke-width:0.4px;">SHA</text>
<text class="T" transform="translate(2556.59 2355.70) scale(0.9930 1)" font-size="38.45" style="stroke-width:0.4px;">check</text>
<text class="T" transform="translate(2727.93 2355.70) scale(1.0305 1)" font-size="38.45" style="stroke-width:0.4px;">2024-07-29</text>
<text class="T" transform="translate(3013.45 2355.50) scale(1.0273 1)" font-size="38.45" style="stroke-width:0.4px;">BM</text>
<text class="T" transform="translate(3238.25 2324.00) scale(1.0846 1)" font-size="38.45" style="stroke-width:0.4px;">1/10</text>
</g>
</svg>
</body></html>
